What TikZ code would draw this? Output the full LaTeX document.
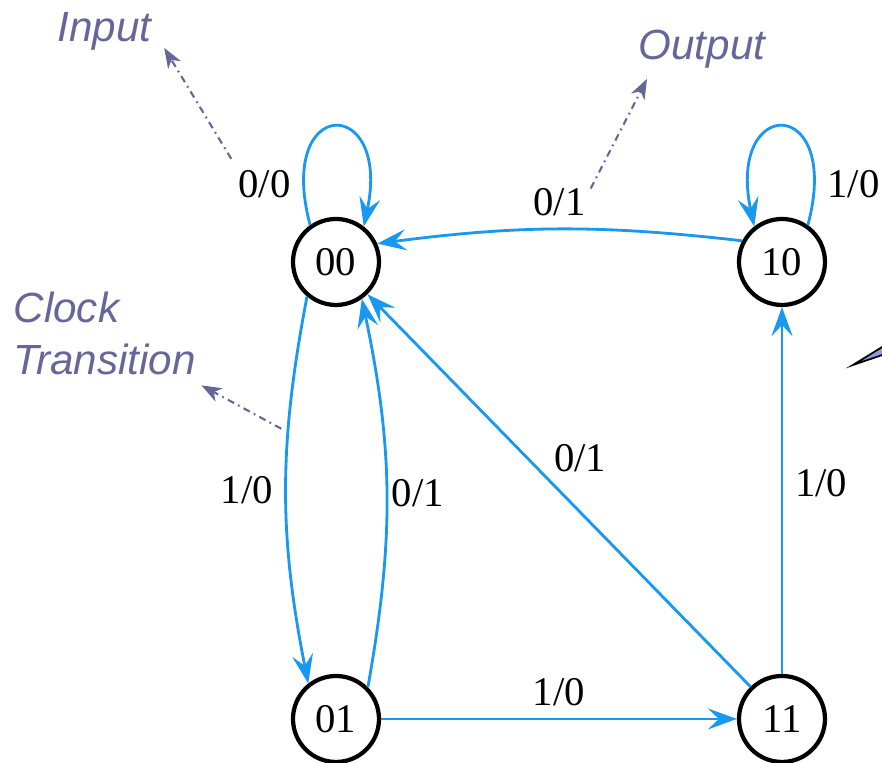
\documentclass[tikz,border=0pt]{standalone}
\usepackage{fontspec}
\setmainfont{Liberation Serif}
\setsansfont{Liberation Sans}
\usetikzlibrary{arrows.meta}
\definecolor{edgeblue}{RGB}{24,152,240}
\definecolor{notepurple}{RGB}{102,102,153}
\definecolor{wedgefill}{RGB}{150,150,235}

\begin{document}
\begin{tikzpicture}[
    circ/.style={draw, circle, line width=1.2pt, minimum size=0.86cm, inner sep=0pt, font=\fontsize{11.6}{13}\selectfont},
    trans/.style={draw=edgeblue, line width=0.8pt, -{Stealth[length=2.9mm,width=2.1mm,inset=1.1mm]}},
    lbl/.style={font=\fontsize{11.6}{13}\selectfont},
    note/.style={draw=notepurple, line width=0.6pt, dash pattern=on 2pt off 1.3pt on 0.5pt off 1.3pt, -{Stealth[length=2mm,width=1.5mm,inset=0.6mm]}},
    notetext/.style={text=notepurple, inner sep=0pt, font=\sffamily\itshape\fontsize{12}{14.8}\selectfont}
  ]
    \useasboundingbox (0,0) rectangle (8.82,7.63);
    %\draw[help lines] (0,0) grid (8.82,7.63);

    \node[circ] (s00) at (3.36,5.01) {00};
    \node[circ] (s10) at (7.82,5.01) {10};
    \node[circ] (s01) at (3.36,0.44) {01};
    \node[circ] (s11) at (7.82,0.44) {11};

    \draw[trans] (s00.125) .. controls +(105:1.35) and +(78:1.35) .. node[lbl, pos=0.12, left] (l00) {0/0} (s00.52);
    \draw[trans] (s10.55) .. controls +(75:1.35) and +(102:1.35) .. node[lbl, pos=0.12, right] (l1010) {1/0} (s10.128);

    \draw[trans] (s10.152) to[bend right=7] node[lbl, above] (l10) {0/1} (s00.24);
    \draw[trans] (s00.230) to[bend right=11] node[lbl, left] (l0001) {1/0} coordinate[pos=0.33] (ct) (s01.128);
    \draw[trans] (s01.45) to[bend right=11] node[lbl, right, xshift=-0.08cm] (l0100) {0/1} (s00.305);
    \draw[trans] (s11) -- node[lbl, pos=0.53, above right, inner sep=1.5pt] (l1100) {0/1} (s00);
    \draw[trans] (s11) -- node[lbl, pos=0.52, right] (l1110) {1/0} (s10);
    \draw[trans] (s01) -- node[lbl, above] (l0111) {1/0} (s11);

    \node[notetext, anchor=base west] (input) at (0.57,7.21) {Input};
    \node[notetext, anchor=base west] (output) at (6.38,7.03) {Output};
    \node[notetext, anchor=north west, align=left] (clock) at (0.13,4.72) {Clock\\Transition};

    \draw[note] ([xshift=0.06cm,yshift=-0.02cm]l00.north west) -- ([xshift=0.12cm,yshift=0.035cm]input.south east);
    \draw[note] ([xshift=-0.08cm,yshift=-0.13cm]l10.north east) -- ([xshift=0.09cm,yshift=-0.095cm]output.south west);
    \draw[note] ([xshift=-0.07cm]ct) -- ([xshift=0.05cm,yshift=-0.1cm]clock.south east);

    \filldraw[fill=wedgefill, draw=black, line width=0.5pt] (8.53,3.98) -- (9.0,4.27) -- (9.0,4.14) -- cycle;
\end{tikzpicture}
\end{document}
